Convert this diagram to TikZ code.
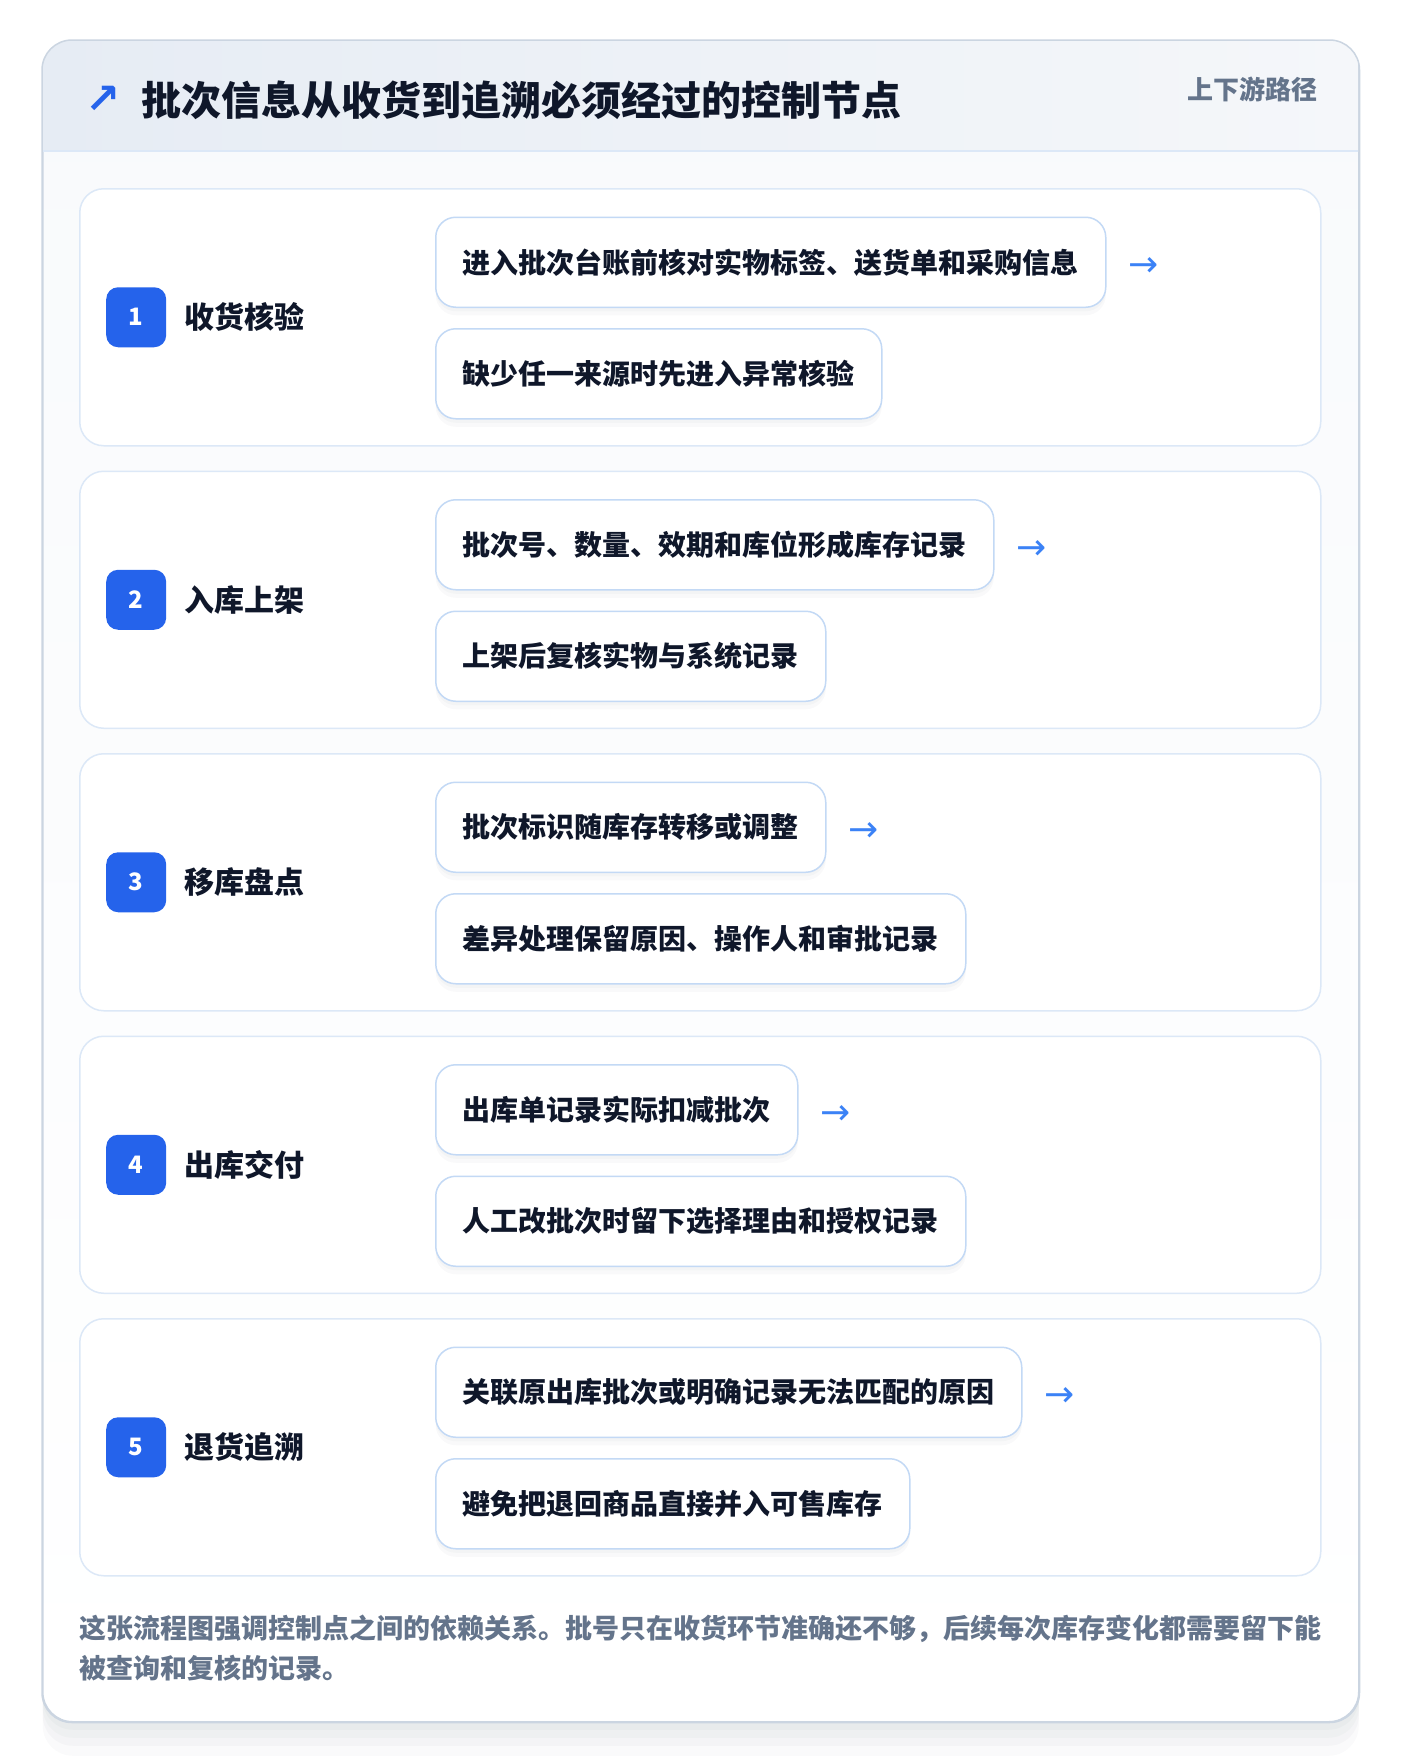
\documentclass[tikz,border=0pt]{standalone}
\usepackage{fontspec}
\setmainfont{Noto Sans CJK SC}
\newfontfamily\symfont{DejaVu Sans}
\usetikzlibrary{positioning,calc}
\definecolor{ink}{HTML}{0F172A}
\definecolor{muted}{HTML}{64748B}
\definecolor{accent}{HTML}{2563EB}
\definecolor{arrowc}{HTML}{3B82F6}
\definecolor{itemline}{HTML}{C3D9F5}
\definecolor{stageline}{HTML}{DCE8F7}
\definecolor{panelline}{HTML}{CBD5E1}
\definecolor{headleft}{HTML}{E6ECF4}
\definecolor{headright}{HTML}{F5F7FA}
\definecolor{bodytop}{HTML}{F8FAFC}
\definecolor{shade}{HTML}{1E293B}
\tikzset{
softshadow/.style={preaction={fill=shade, opacity=#1, transform canvas={yshift=-4pt}},
  preaction={fill=shade, opacity=#1, transform canvas={yshift=-8pt}}},
panel/.style={draw=panelline, line width=1.5pt, rounded corners=30pt, top color=bodytop, bottom color=white, minimum width=1316pt, minimum height=1681pt, anchor=north west, inner sep=0pt,
  preaction={fill=shade, opacity=0.025, transform canvas={yshift=-8pt}},
  preaction={fill=shade, opacity=0.025, transform canvas={yshift=-16pt}},
  preaction={fill=shade, opacity=0.025, transform canvas={yshift=-24pt}},
  preaction={fill=shade, opacity=0.02, transform canvas={yshift=-34pt}}}, % the outer card
stage/.style={draw=stageline, line width=1.5pt, fill=white, rounded corners=24pt, minimum width=1241pt, minimum height=257pt, anchor=north west, inner sep=0pt},
badge/.style={fill=accent, text=white, rounded corners=12pt, minimum size=60pt, inner sep=0pt, font=\fontsize{24}{24}\selectfont\bfseries},
stagename/.style={text=ink, inner sep=0pt, font=\fontsize{30}{30}\selectfont\bfseries},
item/.style={draw=itemline, line width=1.5pt, fill=white, rounded corners=20pt, minimum height=90pt, inner xsep=27pt, inner ysep=0pt, text=ink, font=\fontsize{28}{28}\selectfont\bfseries, softshadow=0.025},
flow/.style={text=arrowc, inner sep=0pt, font=\symfont\fontsize{36}{36}\selectfont},
}

\begin{document}
\begin{tikzpicture}[x=1pt,y=1pt]
   \useasboundingbox[fill=white] (0,0) rectangle (1400,-1764);
   \node[panel] (panel) at (42,-40) {};
   \begin{scope}
     \clip[rounded corners=30pt] (panel.north west) rectangle (panel.south east);
     \shade[left color=headleft, right color=headright] (panel.north west) rectangle (1358,-151);
   \end{scope}
   \draw[stageline, line width=2pt] (42,-151) -- (1358,-151);
   \draw[panelline, line width=1.5pt, rounded corners=30pt] (panel.north west) rectangle (panel.south east);
   % header
   \node[text=accent, inner sep=0pt, font=\symfont\bfseries\fontsize{42}{42}\selectfont] (icon) at (103,-100) {↗};
   \node[text=ink, inner sep=0pt, anchor=west, font=\fontsize{40}{40}\selectfont\bfseries] (title) at (141,-100) {批次信息从收货到追溯必须经过的控制节点};
   \node[text=muted, inner sep=0pt, anchor=east, font=\fontsize{26}{26}\selectfont\bfseries] (tag) at (1318,-89) {上下游路径};
   % stage 1
   \node[stage] (s1) at (79,-188) {};
   \node[badge, right=27pt of s1.west] (b1) {1};
   \node[stagename, right=18pt of b1] (t1) {收货核验};
   \node[item, anchor=west] (i1a) at ([xshift=356pt, yshift=55pt]s1.west) {进入批次台账前核对实物标签、送货单和采购信息};
   \node[item, below right=20pt and 0pt of i1a.south west] (i1b) {缺少任一来源时先进入异常核验};
   \node[flow, right=22pt of i1a, yshift=-5pt] (a1) {→};
   % stage 2
   \node[stage] (s2) at (79,-470.5) {};
   \node[badge, right=27pt of s2.west] (b2) {2};
   \node[stagename, right=18pt of b2] (t2) {入库上架};
   \node[item, anchor=west] (i2a) at ([xshift=356pt, yshift=55pt]s2.west) {批次号、数量、效期和库位形成库存记录};
   \node[item, below right=20pt and 0pt of i2a.south west] (i2b) {上架后复核实物与系统记录};
   \node[flow, right=22pt of i2a, yshift=-5pt] (a2) {→};
   % stage 3
   \node[stage] (s3) at (79,-753) {};
   \node[badge, right=27pt of s3.west] (b3) {3};
   \node[stagename, right=18pt of b3] (t3) {移库盘点};
   \node[item, anchor=west] (i3a) at ([xshift=356pt, yshift=55pt]s3.west) {批次标识随库存转移或调整};
   \node[item, below right=20pt and 0pt of i3a.south west] (i3b) {差异处理保留原因、操作人和审批记录};
   \node[flow, right=22pt of i3a, yshift=-5pt] (a3) {→};
   % stage 4
   \node[stage] (s4) at (79,-1035.5) {};
   \node[badge, right=27pt of s4.west] (b4) {4};
   \node[stagename, right=18pt of b4] (t4) {出库交付};
   \node[item, anchor=west] (i4a) at ([xshift=356pt, yshift=55pt]s4.west) {出库单记录实际扣减批次};
   \node[item, below right=20pt and 0pt of i4a.south west] (i4b) {人工改批次时留下选择理由和授权记录};
   \node[flow, right=22pt of i4a, yshift=-5pt] (a4) {→};
   % stage 5
   \node[stage] (s5) at (79,-1318) {};
   \node[badge, right=27pt of s5.west] (b5) {5};
   \node[stagename, right=18pt of b5] (t5) {退货追溯};
   \node[item, anchor=west] (i5a) at ([xshift=356pt, yshift=55pt]s5.west) {关联原出库批次或明确记录无法匹配的原因};
   \node[item, below right=20pt and 0pt of i5a.south west] (i5b) {避免把退回商品直接并入可售库存};
   \node[flow, right=22pt of i5a, yshift=-5pt] (a5) {→};
   % footer note
   \node[text=muted, inner sep=0pt, anchor=west, align=left, font=\fontsize{27}{40}\selectfont\bfseries] (note) at (79,-1648) {这张流程图强调控制点之间的依赖关系。批号只在收货环节准确还不够，后续每次库存变化都需要留下能\\被查询和复核的记录。};
\end{tikzpicture}
\end{document}
